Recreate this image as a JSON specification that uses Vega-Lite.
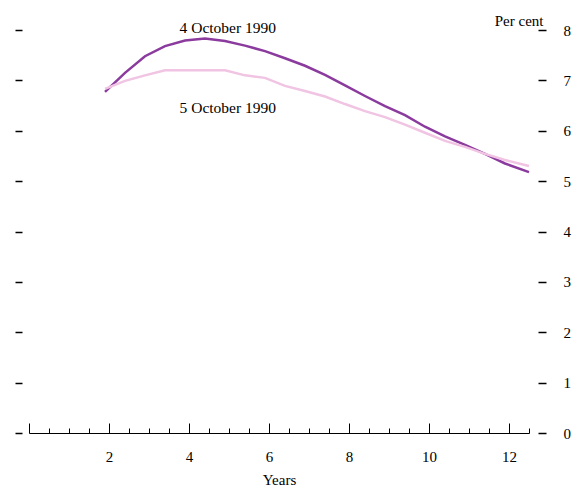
{
  "$schema": "https://vega.github.io/schema/vega-lite/v6.json",
  "width": 500,
  "height": 403,
  "autosize": "none",
  "padding": {"left": 29, "top": 30, "right": 45, "bottom": 55},
  "background": "white",
  "config": {
    "view": {"stroke": null},
    "font": "Liberation Serif",
    "axis": {"labelFont": "Liberation Serif", "titleFont": "Liberation Serif", "labelColor": "black", "titleColor": "black", "tickColor": "black", "domainColor": "black", "grid": false}
  },
  "datasets": {
    "curves": [
      {"year": 1.9, "rate": 6.77, "series": "4 October 1990"},
      {"year": 2.4, "rate": 7.15, "series": "4 October 1990"},
      {"year": 2.9, "rate": 7.48, "series": "4 October 1990"},
      {"year": 3.4, "rate": 7.68, "series": "4 October 1990"},
      {"year": 3.9, "rate": 7.79, "series": "4 October 1990"},
      {"year": 4.4, "rate": 7.83, "series": "4 October 1990"},
      {"year": 4.9, "rate": 7.78, "series": "4 October 1990"},
      {"year": 5.4, "rate": 7.69, "series": "4 October 1990"},
      {"year": 5.9, "rate": 7.58, "series": "4 October 1990"},
      {"year": 6.4, "rate": 7.44, "series": "4 October 1990"},
      {"year": 6.9, "rate": 7.29, "series": "4 October 1990"},
      {"year": 7.4, "rate": 7.11, "series": "4 October 1990"},
      {"year": 7.9, "rate": 6.9, "series": "4 October 1990"},
      {"year": 8.4, "rate": 6.69, "series": "4 October 1990"},
      {"year": 8.9, "rate": 6.49, "series": "4 October 1990"},
      {"year": 9.4, "rate": 6.31, "series": "4 October 1990"},
      {"year": 9.9, "rate": 6.08, "series": "4 October 1990"},
      {"year": 10.4, "rate": 5.89, "series": "4 October 1990"},
      {"year": 10.9, "rate": 5.72, "series": "4 October 1990"},
      {"year": 11.4, "rate": 5.54, "series": "4 October 1990"},
      {"year": 11.9, "rate": 5.35, "series": "4 October 1990"},
      {"year": 12.5, "rate": 5.18, "series": "4 October 1990"},
      {"year": 1.9, "rate": 6.83, "series": "5 October 1990"},
      {"year": 2.4, "rate": 6.99, "series": "5 October 1990"},
      {"year": 2.9, "rate": 7.1, "series": "5 October 1990"},
      {"year": 3.4, "rate": 7.2, "series": "5 October 1990"},
      {"year": 3.9, "rate": 7.2, "series": "5 October 1990"},
      {"year": 4.4, "rate": 7.2, "series": "5 October 1990"},
      {"year": 4.9, "rate": 7.2, "series": "5 October 1990"},
      {"year": 5.4, "rate": 7.1, "series": "5 October 1990"},
      {"year": 5.9, "rate": 7.05, "series": "5 October 1990"},
      {"year": 6.4, "rate": 6.89, "series": "5 October 1990"},
      {"year": 6.9, "rate": 6.79, "series": "5 October 1990"},
      {"year": 7.4, "rate": 6.68, "series": "5 October 1990"},
      {"year": 7.9, "rate": 6.53, "series": "5 October 1990"},
      {"year": 8.4, "rate": 6.39, "series": "5 October 1990"},
      {"year": 8.9, "rate": 6.27, "series": "5 October 1990"},
      {"year": 9.4, "rate": 6.12, "series": "5 October 1990"},
      {"year": 9.9, "rate": 5.96, "series": "5 October 1990"},
      {"year": 10.4, "rate": 5.8, "series": "5 October 1990"},
      {"year": 10.9, "rate": 5.68, "series": "5 October 1990"},
      {"year": 11.4, "rate": 5.54, "series": "5 October 1990"},
      {"year": 11.9, "rate": 5.42, "series": "5 October 1990"},
      {"year": 12.5, "rate": 5.3, "series": "5 October 1990"}
    ],
    "labels": [
      {"year": 4.97, "rate": 8.04, "label": "4 October 1990"},
      {"year": 4.97, "rate": 6.45, "label": "5 October 1990"}
    ]
  },
  "layer": [
    {
      "data": {"name": "curves"},
      "mark": {"type": "line", "strokeWidth": 2.5, "clip": false},
      "encoding": {
        "x": {
          "field": "year", "type": "quantitative",
          "scale": {"domain": [0, 12.5], "nice": false, "zero": false},
          "axis": {
            "orient": "bottom",
            "title": "Years",
            "titleFontSize": 15, "titleFontWeight": "normal", "titlePadding": 8,
            "values": [0, 2, 4, 6, 8, 10, 12],
            "tickSize": -10,
            "tickWidth": 1,
            "domainWidth": 1,
            "labelExpr": "datum.value > 0 ? format(datum.value, 'd') : ''",
            "labelFontSize": 15,
            "labelPadding": 26,
            "labelFlush": false,
            "labelOverlap": false
          }
        },
        "y": {
          "field": "rate", "type": "quantitative",
          "scale": {"domain": [0, 8], "nice": false},
          "axis": {
            "orient": "left",
            "values": [0, 1, 2, 3, 4, 5, 6, 7, 8],
            "offset": 7, "tickSize": 7, "tickWidth": 1.5,
            "labels": false, "domain": false, "title": null
          }
        },
        "color": {
          "field": "series", "type": "nominal",
          "scale": {"domain": ["4 October 1990", "5 October 1990"], "range": ["#8B3A9E", "#F0C4E2"]},
          "legend": null
        }
      }
    },
    {
      "data": {"name": "labels"},
      "mark": {"type": "text", "font": "Liberation Serif", "fontSize": 15.5, "color": "black", "align": "center", "baseline": "middle"},
      "encoding": {
        "x": {
          "field": "year", "type": "quantitative",
          "axis": {
            "orient": "bottom",
            "title": null,
            "values": [0.5, 1, 1.5, 2.5, 3, 3.5, 4.5, 5, 5.5, 6.5, 7, 7.5, 8.5, 9, 9.5, 10.5, 11, 11.5, 12.5],
            "tickSize": -5,
            "tickWidth": 1,
            "domain": false,
            "labels": false
          }
        },
        "y": {
          "field": "rate", "type": "quantitative",
          "axis": {
            "orient": "right",
            "values": [0, 1, 2, 3, 4, 5, 6, 7, 8],
            "offset": 9, "tickSize": 8, "tickWidth": 1.5,
            "domain": false,
            "labelFontSize": 15, "labelPadding": 17, "labelAlign": "left",
            "title": "Per cent",
            "titleAngle": 0, "titleFontSize": 15, "titleFontWeight": "normal",
            "titleAlign": "right", "titleBaseline": "alphabetic",
            "titleX": 5, "titleY": -5
          }
        },
        "text": {"field": "label", "type": "nominal"}
      }
    }
  ],
  "resolve": {"axis": {"y": "independent", "x": "independent"}}
}
